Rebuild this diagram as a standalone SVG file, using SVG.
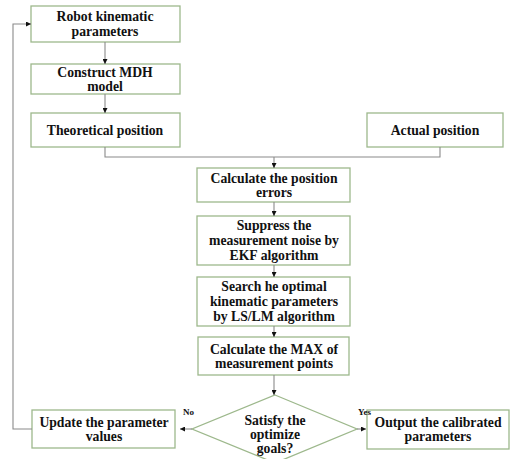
<svg xmlns="http://www.w3.org/2000/svg" width="511" height="459" viewBox="0 0 511 459">
<defs>
<marker id="ah" viewBox="0 0 10 10" refX="10" refY="5" markerWidth="5" markerHeight="5" orient="auto" markerUnits="userSpaceOnUse">
<path d="M0,0 L10,5 L0,10 z" fill="#111"/>
</marker>
<style>
.box{fill:#fff;stroke:#9db88c;stroke-width:1.3}
.t{font-family:"Liberation Serif","Times New Roman",serif;font-weight:bold;font-size:13.7px;fill:#111;text-anchor:middle}
.s{font-family:"Liberation Serif","Times New Roman",serif;font-weight:bold;font-size:9px;fill:#111}
.c{fill:none;stroke:#8a8a8a;stroke-width:1.1}
</style>
</defs>
<rect width="511" height="459" fill="#fff"/>
<g id="n1"><rect class="box" x="31" y="6" width="149" height="36"/><text class="t" x="105" y="21">Robot kinematic</text><text class="t" x="105" y="36">parameters</text></g>
<g id="n2"><rect class="box" x="31" y="64" width="149" height="30"/><text class="t" x="105" y="77">Construct MDH</text><text class="t" x="105" y="91">model</text></g>
<g id="n3"><rect class="box" x="31" y="113" width="149" height="34"/><text class="t" x="105" y="135">Theoretical position</text></g>
<g id="n4"><rect class="box" x="367" y="113" width="136" height="34"/><text class="t" x="435" y="135">Actual position</text></g>
<g id="n5"><rect class="box" x="197" y="168" width="153" height="34"/><text class="t" x="274" y="183">Calculate the position</text><text class="t" x="274" y="197">errors</text></g>
<g id="n6"><rect class="box" x="197" y="216" width="153" height="49"/><text class="t" x="274" y="230">Suppress the</text><text class="t" x="274" y="245">measurement noise by</text><text class="t" x="274" y="260">EKF algorithm</text></g>
<g id="n7"><rect class="box" x="197" y="277" width="153" height="49"/><text class="t" x="274" y="291">Search he optimal</text><text class="t" x="274" y="306">kinematic parameters</text><text class="t" x="274" y="321">by LS/LM algorithm</text></g>
<g id="n8"><rect class="box" x="198" y="337" width="151" height="38"/><text class="t" x="274" y="354">Calculate the MAX of</text><text class="t" x="274" y="368">measurement points</text></g>
<g id="n9"><path class="box" d="M275,395 L357,429 L275,463 L192,429 z"/><text class="t" x="275" y="425">Satisfy the</text><text class="t" x="275" y="439">optimize</text><text class="t" x="275" y="453">goals?</text></g>
<g id="n10"><rect class="box" x="32" y="410" width="143" height="38"/><text class="t" x="104" y="427">Update the parameter</text><text class="t" x="104" y="441">values</text></g>
<g id="n11"><rect class="box" x="367" y="410" width="142" height="39"/><text class="t" x="438" y="427">Output the calibrated</text><text class="t" x="438" y="441">parameters</text></g>
<g id="connectors">
<path class="c" d="M105,42 V64" marker-end="url(#ah)"/>
<path class="c" d="M105,94 V113" marker-end="url(#ah)"/>
<path class="c" d="M105,147 V157 H440 V147"/>
<path class="c" d="M274,157 V168" marker-end="url(#ah)"/>
<path class="c" d="M274,202 V216" marker-end="url(#ah)"/>
<path class="c" d="M274,265 V277" marker-end="url(#ah)"/>
<path class="c" d="M274,326 V337" marker-end="url(#ah)"/>
<path class="c" d="M274,375 V395" marker-end="url(#ah)"/>
<path class="c" d="M192,429 H180" marker-end="url(#ah)"/>
<path class="c" d="M357,429 H366" marker-end="url(#ah)"/>
<path class="c" d="M32,429 H13 V24 H31" marker-end="url(#ah)"/>
<text class="s" x="183" y="415">No</text>
<text class="s" x="358" y="415">Yes</text>
</g>
</svg>
